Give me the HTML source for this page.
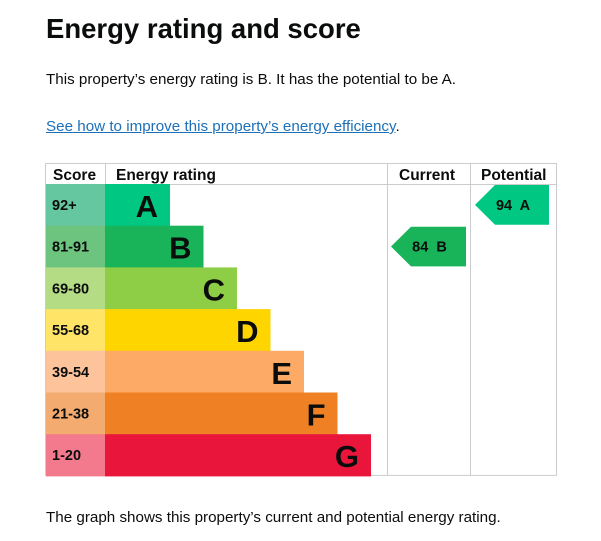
<!DOCTYPE html>
<html><head><meta charset="utf-8"><style>
body{margin:0;background:#fff;font-family:"Liberation Sans",Arial,sans-serif;color:#0b0c0c;width:601px;height:541px;overflow:hidden;position:relative}
.t{position:absolute;left:46px;white-space:nowrap}
h1{margin:0;font-size:27.5px;font-weight:bold;top:13px}
p{margin:0;font-size:15.2px}
a{color:#1d70b8;text-decoration:underline}
svg{position:absolute;left:0;top:0}
</style></head><body>
<h1 class="t">Energy rating and score</h1>
<p class="t" style="top:71px">This property’s energy rating is B. It has the potential to be A.</p>
<p class="t" style="top:118px"><a href="#">See how to improve this property’s energy efficiency</a>.</p>
<p class="t" style="top:509px">The graph shows this property’s current and potential energy rating.</p>
<svg id="chart" width="601" height="541"></svg>
<script>
const bands=["A","B","C","D","E","F","G"];
const ranges=["92+","81-91","69-80","55-68","39-54","21-38","1-20"];
const bandMax=[100,91,80,68,54,38,20];
const barColors=["#00c781","#19b459","#8dce46","#ffd500","#fcaa65","#ef8023","#e9153b"];
const scoreColors=["#64c7a0","#6dc47f","#b3dc84","#ffe467","#fdc49b","#f4ab70","#f27a8c"];
const currentScore=84, currentBand="B";
const potentialScore=94, potentialBand="A";
const NS="http://www.w3.org/2000/svg", svg=document.getElementById("chart");
function mk(t,a,p){const e=document.createElementNS(NS,t);for(const k in a)e.setAttribute(k,a[k]);(p||svg).appendChild(e);return e;}
const L=45,R=557,T=163,H=21,rowH=41.7,c1=105,c2=387,c3=470;
const rowY=i=>T+H+i*rowH;
const barW=i=>65+i*33.5;
const bandIdx=s=>{let i=0;for(let k=0;k<bandMax.length;k++)if(s<=bandMax[k])i=k;return i;};
mk("rect",{x:L+.5,y:T+.5,width:R-L-1,height:rowY(7)-T-1,fill:"none",stroke:"#ccc"});
mk("line",{x1:L,x2:R,y1:T+H+.5,y2:T+H+.5,stroke:"#ccc"});
[c1,c2,c3].forEach(x=>mk("line",{x1:x+.5,x2:x+.5,y1:T,y2:rowY(7),stroke:"#ccc"}));
const hd=[["Score",53,"score-header"],["Energy rating",116,"rating-header"],["Current",399,"current-header"],["Potential",481,"potential-header"]];
hd.forEach(h=>{const e=mk("text",{x:h[1],y:T+17,"font-size":"15.5","font-weight":"bold",fill:"#0b0c0c"});e.textContent=h[0];

});
bands.forEach((b,i)=>{
 const y=rowY(i);
 const s=mk("rect",{x:L+1,y:y,width:c1-L-1,height:rowH+.5,fill:scoreColors[i]});
 
 
 const st=mk("text",{x:52,y:y+26,"font-size":"14.5","font-weight":"bold",fill:"#0b0c0c"});st.textContent=ranges[i];
 
 
 const w=barW(i);
 const r=mk("rect",{x:c1,y:y,width:w,height:rowH+.5,fill:barColors[i]});
 
 
 const lt=mk("text",{x:c1+w-12,y:y+33,"text-anchor":"end","font-size":"31","font-weight":"bold",fill:"#0b0c0c"});lt.textContent=b;
 
 
});
function arrow(score,band,x0,x1,name){
 const i=bandIdx(score),y=rowY(i)+1,h=rowH-2;
 const g=mk("g",{});
 
 
 mk("polygon",{points:`${x0},${y+h/2} ${x0+20},${y} ${x1},${y} ${x1},${y+h} ${x0+20},${y+h}`,fill:barColors[i]},g);
 const t=mk("text",{x:(x0+x1)/2+1,y:y+h/2+5,"text-anchor":"middle","font-size":"14.5","font-weight":"bold",fill:"#0b0c0c"},g);
 t.textContent=score+"  "+band;t.setAttribute("xml:space","preserve");t.style.whiteSpace="pre";
}
arrow(currentScore,currentBand,391,466,"current-rating-arrow");
arrow(potentialScore,potentialBand,475,549,"potential-rating-arrow");
</script>
</body></html>
